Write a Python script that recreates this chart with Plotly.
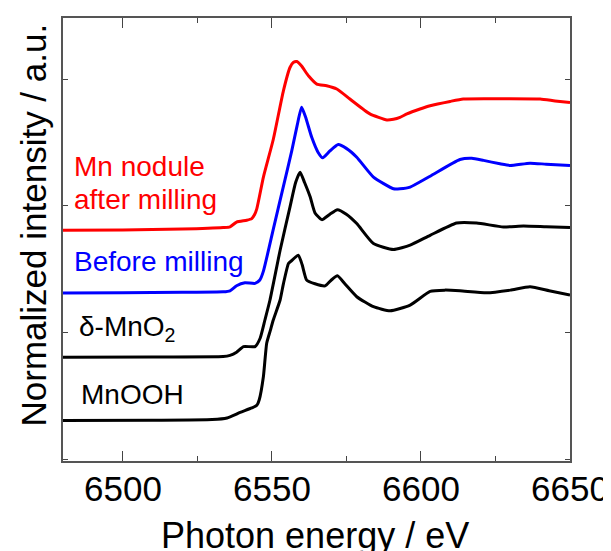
import plotly.graph_objects as go

# ---- data (photon energy in eV, normalized intensity with vertical offsets) ----
nodule_E = [6480, 6500, 6520, 6533.7, 6536.0, 6538.2, 6541.6, 6543.3, 6544.2, 6545.0, 6547.2,
            6550.5, 6553.9, 6556.1, 6557.3, 6558.4, 6560.0, 6562.3, 6565.1, 6568.4, 6571.8,
            6576.2, 6582.9, 6588.6, 6590.8, 6593.0, 6595.3, 6599.7, 6603.1, 6609.8, 6614.2,
            6625, 6640.0, 6645, 6650]
nodule_I = [1.823, 1.825, 1.832, 1.844, 1.850, 1.888, 1.902, 1.915, 1.945, 1.994, 2.243,
            2.540, 2.925, 3.109, 3.150, 3.156, 3.120, 3.043, 2.978, 2.965, 2.939,
            2.860, 2.742, 2.694, 2.700, 2.715, 2.742, 2.781, 2.807, 2.841, 2.860,
            2.862, 2.860, 2.845, 2.833]

before_E = [6480, 6500, 6520, 6533.7, 6536.0, 6538.2, 6541.0, 6544.4, 6546.0, 6547.2, 6550.5,
            6553.9, 6556.7, 6558.5, 6560.0, 6561.3, 6563.4, 6565.5, 6567.1, 6569.5, 6572.3,
            6575, 6578.5, 6584.1, 6590.8, 6593.0, 6596.4, 6603.1, 6613.1, 6617.1, 6621,
            6626.5, 6629.9, 6636.6, 6642, 6650]
before_I = [1.327, 1.330, 1.333, 1.337, 1.345, 1.385, 1.408, 1.403, 1.430, 1.500, 1.830,
            2.170, 2.450, 2.650, 2.794, 2.720, 2.557, 2.440, 2.395, 2.450, 2.500,
            2.470, 2.400, 2.243, 2.151, 2.151, 2.164, 2.250, 2.382, 2.392, 2.375,
            2.348, 2.335, 2.353, 2.345, 2.335]

dmno2_E = [6480, 6510, 6533.7, 6536.0, 6538.2, 6540.5, 6544.4, 6546.1, 6547.7, 6549.4, 6552.8,
           6556.1, 6558.0, 6559.5, 6561.0, 6562.9, 6564.5, 6566.8, 6569.5, 6572.0, 6575,
           6578.5, 6584.1, 6590.8, 6596.4, 6603.1, 6612.0, 6618.7, 6627.7, 6634.4, 6642, 6650]
dmno2_I = [0.820, 0.822, 0.825, 0.835, 0.860, 0.904, 0.904, 0.970, 1.114, 1.272, 1.665,
           2.006, 2.200, 2.282, 2.200, 2.085, 1.960, 1.907, 1.950, 1.986, 1.950,
           1.876, 1.718, 1.671, 1.705, 1.783, 1.880, 1.880, 1.849, 1.857, 1.850, 1.844]

mnooh_E = [6480, 6510, 6530, 6535, 6539.4, 6543.3, 6545.0, 6545.8, 6547.2, 6548.3, 6549.5,
           6550.5, 6552.8, 6553.9, 6555.6, 6556.5, 6558.9, 6560.2, 6561.7, 6564.5, 6567.9,
           6570, 6572.0, 6574.5, 6578.5, 6584.1, 6589.7, 6596.4, 6603.1, 6608, 6613.1,
           6622.1, 6630, 6636.6, 6643, 6650]
mnooh_I = [0.319, 0.322, 0.327, 0.340, 0.384, 0.419, 0.440, 0.484, 0.668, 0.931, 1.030,
           1.114, 1.272, 1.400, 1.561, 1.580, 1.626, 1.550, 1.429, 1.400, 1.384,
           1.430, 1.463, 1.400, 1.298, 1.219, 1.187, 1.232, 1.340, 1.350, 1.345,
           1.329, 1.350, 1.376, 1.345, 1.311]

x_tick_vals = [6500, 6550, 6600, 6650]
x_tick_text = ["6500", "6550", "6600", "6650"]

FONT = "Arial, Liberation Sans, Helvetica, sans-serif"

fig = go.Figure()
for E, I, col in [(mnooh_E, mnooh_I, "#000000"), (dmno2_E, dmno2_I, "#000000"),
                  (before_E, before_I, "#0000FF"), (nodule_E, nodule_I, "#FF0000")]:
    fig.add_trace(go.Scatter(x=E, y=I, mode="lines",
                             line=dict(color=col, width=3, shape="spline", smoothing=0.5),
                             showlegend=False))

labels = [
    ("Mn nodule", 6483.0, 2.330, "#FF0000"),
    ("after milling", 6483.0, 2.070, "#FF0000"),
    ("Before milling", 6483.0, 1.575, "#0000FF"),
    ("δ-MnO<sub>2</sub>", 6484.7, 1.047, "#000000"),
    ("MnOOH", 6485.4, 0.527, "#000000"),
]
for txt, x, y, col in labels:
    fig.add_annotation(x=x, y=y, xref="x", yref="y", text=txt, showarrow=False,
                       xanchor="left", yanchor="middle",
                       font=dict(family=FONT, size=28, color=col))

# x tick labels placed on the x axis scale
for v, t in zip(x_tick_vals, x_tick_text):
    fig.add_annotation(x=v, y=-0.061, xref="x", yref="paper", text=t, showarrow=False,
                       xanchor="center", yanchor="middle",
                       font=dict(family=FONT, size=35, color="#000000"))

fig.add_annotation(x=-0.058, y=0.533, xref="paper", yref="paper",
                   text="Normalized intensity / a.u.", showarrow=False, textangle=-90,
                   xanchor="center", yanchor="middle",
                   font=dict(family=FONT, size=35, color="#000000"))
fig.add_annotation(x=0.497, y=-0.168, xref="paper", yref="paper",
                   text="Photon energy / eV", showarrow=False,
                   xanchor="center", yanchor="middle",
                   font=dict(family=FONT, size=36, color="#000000"))

# the page body adds an 8 px margin, so the figure is 8 px smaller than the window
fig.update_layout(
    width=603, height=543,
    margin=dict(l=55, r=41, t=8, b=90),
    paper_bgcolor="white", plot_bgcolor="white",
    font=dict(family=FONT, color="#000000"),
    xaxis=dict(range=[6480, 6650], tickvals=x_tick_vals, showticklabels=False,
               ticks="inside", ticklen=10, tickwidth=1.2, tickcolor="#444",
               showline=True, linecolor="#555", linewidth=1.5, mirror="ticks",
               showgrid=False, zeroline=False,
               minor=dict(dtick=25, tick0=6475, ticks="inside", ticklen=5,
                          tickcolor="#444", showgrid=False)),
    yaxis=dict(range=[0, 3.5], tick0=0.015, dtick=1,
               ticks="inside", ticklen=5, tickwidth=1.2, tickcolor="#444",
               showticklabels=False,
               showline=True, linecolor="#555", linewidth=1.5, mirror="ticks",
               showgrid=False, zeroline=False),
)

fig.write_html("out.html")
